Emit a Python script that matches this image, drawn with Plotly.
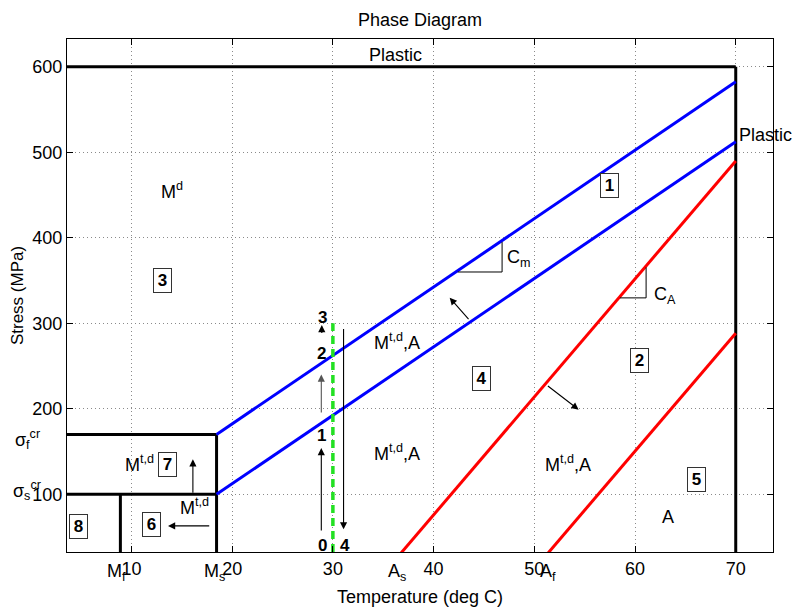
import plotly.graph_objects as go

# Transformation temperatures (deg C) and critical stresses (MPa)
temps = {"Mf": 8.9, "Ms": 18.45, "As": 34.5, "Af": 49.1, "Tmax": 70.0}
stress = {"sig_s": 100.0, "sig_f": 170.0, "plastic": 600.0}
slopes = {"CM": 8.0, "CA": 13.8}

x_range = [3.6, 73.7]
y_range = [32.5, 632.5]
x_ticks = [10, 20, 30, 40, 50, 60, 70]
y_ticks = [100, 200, 300, 400, 500, 600]

Mf, Ms, As, Af, T = temps["Mf"], temps["Ms"], temps["As"], temps["Af"], temps["Tmax"]
ss, sf, sp = stress["sig_s"], stress["sig_f"], stress["plastic"]
CM, CA = slopes["CM"], slopes["CA"]

# line segments (x list, y list)
black_segments = [
    ([x_range[0], T], [sp, sp]),
    ([T, T], [y_range[0], sp]),
    ([x_range[0], Ms], [sf, sf]),
    ([x_range[0], Ms], [ss, ss]),
    ([Ms, Ms], [y_range[0], sf]),
    ([Mf, Mf], [y_range[0], ss]),
]
blue_segments = [
    ([Ms, T], [ss, ss + CM * (T - Ms)]),
    ([Ms, T], [sf, sf + CM * (T - Ms)]),
]
red_segments = [
    ([As, T], [0, CA * (T - As)]),
    ([Af, T], [0, CA * (T - Af)]),
]
green_path = ([30, 30], [y_range[0], 300])

# slope triangles
cm_tri = ([42.4, 46.8, 46.8], [360, 360, 395])
ca_tri = ([58.5, 61.1, 61.1], [329.7, 329.7, 365.4])

# arrows: (x_tail, y_tail, x_head, y_head, color)
arrows = [
    (28.85, 56, 28.85, 154, "black"),
    (28.85, 194, 28.85, 240, "#555"),
    (28.9, 287, 28.9, 298, "black"),
    (31.06, 295, 31.06, 59, "black"),
    (43.6, 303, 41.6, 330, "black"),
    (51.2, 228, 54.4, 199, "black"),
    (16.1, 100, 16.1, 141, "black"),
    (17.87, 63, 13.63, 63, "black"),
]

# plain text labels: (x, y, text, anchor)
texts = [
    (36.25, 613.4, "Plastic", "center"),
    (70.1, 520, "Plastic", "left"),
    (14.0, 455, "M<sup>d</sup>", "center"),
    (48.5, 376, "C<sub>m</sub>", "center"),
    (63.0, 332, "C<sub>A</sub>", "center"),
    (36.4, 279, "M<sup>t,d</sup>,A", "center"),
    (36.4, 149, "M<sup>t,d</sup>,A", "center"),
    (53.3, 136, "M<sup>t,d</sup>,A", "center"),
    (63.3, 73, "A", "center"),
    (10.8, 136, "M<sup>t,d</sup>", "center"),
    (16.3, 86, "M<sup>t,d</sup>", "center"),
]
# step numbers along the loading path: (x, y, text)
step_labels = [
    (28.95, 39.6, "0"), (28.85, 168.5, "1"), (28.85, 265, "2"), (29.0, 307, "3"), (31.2, 39.6, "4"),
]
# boxed region numbers
boxes = [
    (57.5, 461, "1"), (60.4, 256.8, "2"), (13.05, 350, "3"), (44.8, 235, "4"),
    (66.1, 117.5, "5"), (12.0, 65, "6"), (13.6, 134.4, "7"), (4.78, 62.7, "8"),
]
# labels below x-axis
below_labels = [(8.5, "M<sub>f</sub>"), (18.2, "M<sub>s</sub>"), (36.4, "A<sub>s</sub>"), (51.4, "A<sub>f</sub>")]
# labels left of y-axis
left_labels = [(164, "σ<sub>f</sub><sup>cr</sup>"), (104, "σ<sub>s</sub><sup>cr</sup>")]

fig = go.Figure()
for xs, ys in black_segments:
    fig.add_trace(go.Scatter(x=xs, y=ys, mode="lines", line=dict(color="black", width=3), hoverinfo="skip"))
for xs, ys in blue_segments:
    fig.add_trace(go.Scatter(x=xs, y=ys, mode="lines", line=dict(color="#0000ff", width=3), hoverinfo="skip"))
for xs, ys in red_segments:
    fig.add_trace(go.Scatter(x=xs, y=ys, mode="lines", line=dict(color="#ff0000", width=3), hoverinfo="skip"))
fig.add_trace(go.Scatter(x=green_path[0], y=green_path[1], mode="lines",
                         line=dict(color="#22e022", width=3.5, dash="8px,5px"), hoverinfo="skip"))
for tri in (cm_tri, ca_tri):
    fig.add_trace(go.Scatter(x=tri[0], y=tri[1], mode="lines", line=dict(color="black", width=1), hoverinfo="skip"))

font = "Liberation Sans, Arial, sans-serif"
FS = 18
for x0, y0, x1, y1, c in arrows:
    fig.add_annotation(x=x1, y=y1, ax=x0, ay=y0, xref="x", yref="y", axref="x", ayref="y",
                       showarrow=True, arrowhead=2, arrowsize=1.3, arrowwidth=1.1, arrowcolor=c, text="")
for x, y, t, anc in texts:
    fig.add_annotation(x=x, y=y, text=t, showarrow=False, xanchor=anc, yanchor="middle",
                       font=dict(family=font, size=FS, color="black"))
for x, y, t in step_labels:
    fig.add_annotation(x=x, y=y, text="<b>" + t + "</b>", showarrow=False,
                       font=dict(family=font, size=17, color="black"))
for x, y, t in boxes:
    fig.add_annotation(x=x, y=y, text="<b>" + t + "</b>", showarrow=False, bordercolor="#333",
                       borderwidth=1, borderpad=2, bgcolor="white", width=13,
                       font=dict(family=font, size=17, color="black"))
for x, t in below_labels:
    fig.add_annotation(x=x, y=0, xref="x", yref="paper", xanchor="center", yanchor="top", yshift=-7,
                       text=t, showarrow=False, font=dict(family=font, size=FS, color="black"))
for y, t in left_labels:
    fig.add_annotation(x=0, y=y, xref="paper", yref="y", xanchor="center", yanchor="middle", xshift=-40,
                       text=t, showarrow=False, font=dict(family=font, size=FS, color="black"))

axis_common = dict(showline=True, linecolor="black", linewidth=1, mirror="ticks", ticks="inside",
                   ticklen=6, tickcolor="black", showgrid=True, gridcolor="#8a8a8a", griddash="1px,3px",
                   gridwidth=1, zeroline=False, tickfont=dict(family=font, size=FS, color="black"))
fig.update_xaxes(range=x_range, tickvals=x_ticks, title=dict(text="Temperature (deg C)", standoff=12,
                 font=dict(family=font, size=FS, color="black")), **axis_common)
fig.update_yaxes(range=y_range, tickvals=y_ticks, title=dict(text="Stress (MPa)", standoff=4,
                 font=dict(family=font, size=17, color="black")), **axis_common)
fig.update_layout(
    width=793, height=615, showlegend=False, plot_bgcolor="white", paper_bgcolor="white",
    margin=dict(l=67, r=20, t=39, b=61),
    title=dict(text="Phase Diagram", x=0.5296, xanchor="center", y=0.968, yanchor="middle",
               font=dict(family=font, size=FS, color="black")),
)
fig.write_html("out.html")
